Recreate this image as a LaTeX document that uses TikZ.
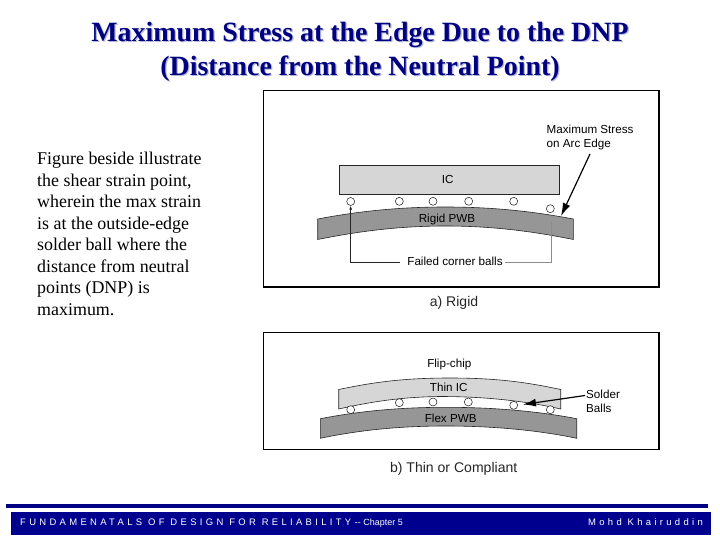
\documentclass[tikz,border=0pt]{standalone}
\usepackage{fontspec}
\setmainfont{Liberation Serif}
\setsansfont{Liberation Sans}
\newfontfamily\footfont[LetterSpace=35]{Liberation Sans}
\newfontfamily\footfonttight{Liberation Sans}
\usetikzlibrary{arrows.meta}
\definecolor{titleblue}{HTML}{000080}
\definecolor{titleshade}{HTML}{B4B8D8}
\definecolor{footblue}{HTML}{00008E}
\definecolor{icfill}{HTML}{D6D6D6}
\definecolor{pwbfill}{HTML}{969696}
\tikzset{
  panel/.style={draw=black,line width=1.2pt,fill=white},
  titletext/.style={font=\fontsize{28}{28}\selectfont\bfseries,text=titleblue,anchor=center,inner sep=0pt,text height=1.5ex,text depth=.25ex,yshift=-6.5bp},
  titleshadow/.style={titletext,text=titleshade},
  lab/.style={font=\sffamily\fontsize{11.7}{12}\selectfont,text=black,inner sep=0pt,text height=1.5ex,text depth=.25ex,yshift=-1.5bp},
  captext/.style={font=\sffamily\fontsize{14.1}{15}\selectfont,text=black!85,inner sep=0pt,text height=1.5ex,text depth=.25ex,yshift=-1.5bp},
  ball/.style={circle,draw=black!85,fill=white,line width=0.55pt,minimum size=8pt,inner sep=0pt},
  slab/.style={draw=black!85,line width=0.6pt},
  pointer/.style={draw=black,line width=1.2pt,-{Latex[length=13pt,width=8pt]}},
  lead/.style={draw=black!85,line width=0.7pt},
  bodytext/.style={anchor=west,inner sep=0pt,font=\fontsize{18}{18}\selectfont,text height=1.5ex,text depth=.25ex,yshift=-3bp},
  foottext/.style={inner sep=0pt,text=white,text height=1.5ex,text depth=.25ex},
}
\begin{document}
\begin{tikzpicture}[x=1bp,y=-1bp]
\useasboundingbox (0,0) rectangle (720,540);
% title
\node[titleshadow] at (361.3,33.3) {Maximum Stress at the Edge Due to the DNP};
\node[titleshadow] at (361.3,67.3) {(Distance from the Neutral Point)};
\node[titletext] (t1) at (360,32) {Maximum Stress at the Edge Due to the DNP};
\node[titletext] (t2) at (360,66) {(Distance from the Neutral Point)};
% body
\node[bodytext] (b1) at (37,159) {Figure beside illustrate};
\node[bodytext] (b2) at (37,181) {the shear strain point,};
\node[bodytext] (b3) at (37,202) {wherein the max strain};
\node[bodytext] (b4) at (37,224) {is at the outside-edge};
\node[bodytext] (b5) at (37,245) {solder ball where the};
\node[bodytext] (b6) at (37,267) {distance from neutral};
\node[bodytext] (b7) at (37,288) {points (DNP) is};
\node[bodytext] (b8) at (37,310) {maximum.};
% panel a
\draw[panel] (263.5,90.5) rectangle (659,287);
\draw[slab,fill=icfill] (339,165) rectangle (559,194);
\draw[slab,fill=pwbfill] (317.7,219) .. controls (360,211) and (400,207) .. (445.5,207)
  .. controls (491,207) and (531,211) .. (573.3,219) -- (573.3,239.5)
  .. controls (531,231) and (491,226) .. (445.5,226)
  .. controls (400,226) and (360,231) .. (317.7,239.5) -- cycle;
\node[ball] (a1) at (350.7,201.5) {};
\node[ball] (a2) at (399.3,201.3) {};
\node[ball] (a3) at (433,201.3) {};
\node[ball] (a4) at (468.7,201.3) {};
\node[ball] (a5) at (513.7,201.3) {};
\node[ball] (a6) at (550.3,208.7) {};
\node[lab] (ic) at (447.7,178.7) {IC};
\node[lab] (rigid) at (447,218.3) {Rigid PWB};
\node[lab,anchor=west] (max1) at (546.5,129) {Maximum Stress};
\node[lab,anchor=west] (max2) at (546.5,143) {on Arc Edge};
\node[lab] (failed) at (455,261) {Failed corner balls};
\node[captext] (capa) at (454,301.7) {a) Rigid};
\coordinate (fl) at (350.7,205.7);
\coordinate (fr) at (551.3,221);
\coordinate (maxstart) at (590,154);
\coordinate (maxend) at (561,216);
\draw[lead,-{Latex[length=4pt,width=3pt]}] ([xshift=-7bp]failed.west) -| (fl);
\draw[lead,draw=black!45,-{Latex[length=3pt,width=2.5pt]}] ([xshift=2.5bp]failed.east) -| (fr);
\draw[pointer] (maxstart) -- (maxend);
% panel b
\draw[panel] (263.5,332.5) rectangle (659,449.3);
\draw[slab,fill=icfill] (338.7,389.5) .. controls (370,383) and (400,378) .. (450,378)
  .. controls (500,378) and (530,383) .. (560.7,389.5) -- (560.7,409)
  .. controls (530,402) and (490,396.5) .. (440,396.5)
  .. controls (400,397) and (370,402) .. (338.7,409) -- cycle;
\node[ball] (b1b) at (350.7,409.7) {};
\node[ball] (b2b) at (399.3,402.7) {};
\node[ball] (b3b) at (433,402) {};
\node[ball] (b4b) at (468.3,402) {};
\node[ball] (b5b) at (513.7,405.3) {};
\node[ball] (b6b) at (550.3,409.7) {};
\draw[slab,fill=pwbfill] (320.3,418.7) .. controls (360,411) and (400,407.3) .. (446,407.3)
  .. controls (492,407.3) and (537,411) .. (576.7,418.7) -- (576.7,438.3)
  .. controls (537,430) and (492,426) .. (446,426)
  .. controls (400,426) and (360,430) .. (320.3,438.3) -- cycle;
\node[lab] (flip) at (449.3,363) {Flip-chip};
\node[lab] (thin) at (448.7,387.3) {Thin IC};
\node[lab] (flex) at (450.7,418.3) {Flex PWB};
\node[lab,anchor=west] (sol) at (586,394) {Solder};
\node[lab,anchor=west] (balls) at (586,407.7) {Balls};
\node[captext] (capb) at (453.7,467.7) {b) Thin or Compliant};
\coordinate (soltip) at (523,404.5);
\draw[pointer] ([xshift=-1bp]sol.west) -- (soltip);
% footer
\fill[titleblue] (6,504) rectangle (708,507.5);
\fill[footblue] (11,511.5) rectangle (711,535);
\node[foottext,anchor=west,font=\footfont\fontsize{9.5}{10}\selectfont] (f1) at (20,522.5) {FUNDAMENATALS OF DESIGN FOR RELIABILITY};
\node[foottext,anchor=east,font=\footfonttight\fontsize{9}{10}\selectfont] (f2) at (403,522.5) {-- Chapter 5};
\node[foottext,anchor=east,font=\footfont\fontsize{9.5}{10}\selectfont] (f3) at (703,522.5) {Mohd Khairuddin};
\end{tikzpicture}
\end{document}
